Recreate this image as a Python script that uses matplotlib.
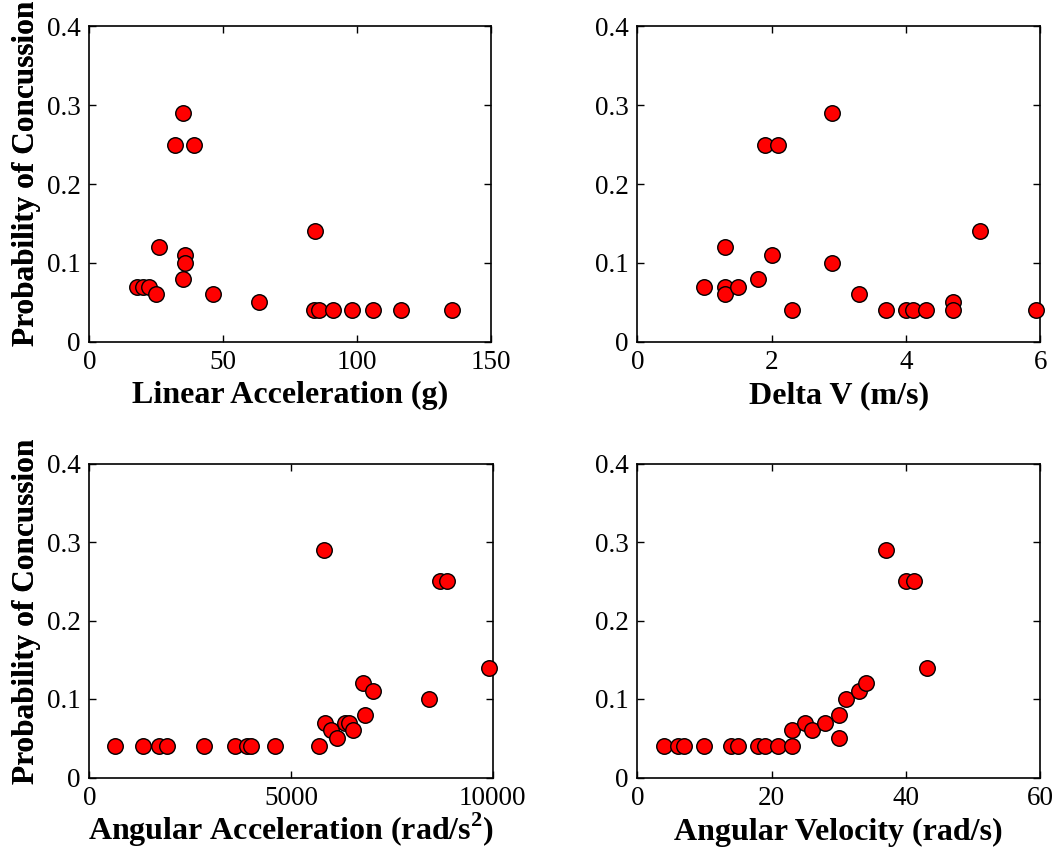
import matplotlib
matplotlib.use("Agg")
import matplotlib.pyplot as plt

plt.rcParams['font.family'] = ['Liberation Serif', 'DejaVu Serif']
plt.rcParams['mathtext.fontset'] = 'custom'
plt.rcParams['mathtext.rm'] = 'Liberation Serif:bold'
plt.rcParams['mathtext.bf'] = 'Liberation Serif:bold'

# Panel 1: Linear acceleration (g)
lin_acc = [17.9, 20.1, 22.4, 24.9, 25.9, 32.0, 35.1, 39.1, 35.1, 35.8, 35.8,
           46.0, 63.3, 84.1, 84.0, 85.8, 91.0, 98.0, 106.0, 116.2, 135.3]
lin_prob = [0.07, 0.07, 0.07, 0.06, 0.12, 0.25, 0.29, 0.25, 0.08, 0.11, 0.10,
            0.06, 0.05, 0.14, 0.04, 0.04, 0.04, 0.04, 0.04, 0.04, 0.04]

# Panel 2: Delta V (m/s)
dv = [1.0, 1.3, 1.3, 1.3, 1.5, 1.8, 1.9, 2.1, 2.0, 2.3, 2.9, 2.9, 3.3, 3.7,
      4.0, 4.1, 4.3, 4.7, 4.7, 5.1, 5.93]
dv_prob = [0.07, 0.12, 0.07, 0.06, 0.07, 0.08, 0.25, 0.25, 0.11, 0.04, 0.29,
           0.10, 0.06, 0.04, 0.04, 0.04, 0.04, 0.05, 0.04, 0.14, 0.04]

# Panel 3: Angular acceleration (rad/s^2)
ang_acc = [645, 1339, 1736, 1917, 2843, 3620, 3917, 4000, 4612, 5702, 5818,
           5851, 5983, 6149, 6347, 6446, 6545, 6843, 6777, 7025, 8430, 8694,
           8876, 9901]
ang_acc_prob = [0.04, 0.04, 0.04, 0.04, 0.04, 0.04, 0.04, 0.04, 0.04, 0.04,
                0.29, 0.07, 0.06, 0.05, 0.07, 0.07, 0.06, 0.08, 0.12, 0.11,
                0.10, 0.25, 0.25, 0.14]

# Panel 4: Angular velocity (rad/s)
ang_vel = [4, 6, 7, 10, 14, 15, 18, 19, 21, 23, 23, 25, 26, 28, 30, 30, 31,
           33, 34, 37, 40, 41.2, 43.2]
ang_vel_prob = [0.04, 0.04, 0.04, 0.04, 0.04, 0.04, 0.04, 0.04, 0.04, 0.04,
                0.06, 0.07, 0.06, 0.07, 0.08, 0.05, 0.10, 0.11, 0.12, 0.29,
                0.25, 0.25, 0.14]

ylabel = 'Probability of Concussion'
yticks = [0, 0.1, 0.2, 0.3, 0.4]
yticklabels = ['0', '0.1', '0.2', '0.3', '0.4']

panels = [
    (lin_acc, lin_prob, (0, 150), [0, 50, 100, 150], ['0', '50', '100', '150'],
     'Linear Acceleration (g)'),
    (dv, dv_prob, (0, 6), [0, 2, 4, 6], ['0', '2', '4', '6'], 'Delta V (m/s)'),
    (ang_acc, ang_acc_prob, (0, 10000), [0, 5000, 10000], ['0', '5000', '10000'],
     r'Angular Acceleration (rad/s$^{2}$)'),
    (ang_vel, ang_vel_prob, (0, 60), [0, 20, 40, 60], ['0', '20', '40', '60'],
     'Angular Velocity (rad/s)'),
]

W, H = 1058, 859
fig = plt.figure(figsize=(W / 100, H / 100), dpi=100)

# axes boxes in pixels: (left, top, right, bottom), plus label baseline / ylabel centre
boxes = [
    (89.3, 26.3, 491.3, 341.7, 403, 173),
    (637.3, 26.3, 1040.3, 341.7, 403, 173),
    (89.3, 463.5, 492.7, 777.5, 840, 611),
    (637.3, 463.5, 1040.3, 777.5, 840, 611),
]

for (x, y, xlim, xt, xtl, xlabel), (l, t, r, b, xlb, ylc) in zip(panels, boxes):
    ax = fig.add_axes([l / W, (H - b) / H, (r - l) / W, (b - t) / H])
    ax.scatter(x, y, s=125, c='#ff0000', edgecolors='black', linewidths=1.0,
               zorder=3, clip_on=False)
    ax.set_xlim(*xlim)
    ax.set_ylim(0, 0.4)
    ax.set_xticks(xt)
    ax.set_xticklabels(xtl)
    ax.set_yticks(yticks)
    ax.set_yticklabels(yticklabels)
    ax.tick_params(direction='in', length=5, width=1, top=True, right=True,
                   labelsize=19.5, pad=6)
    for sp in ax.spines.values():
        sp.set_linewidth(1.2)
    ax.set_xlabel(xlabel, fontsize=23, fontweight='bold', va='baseline')
    ax.xaxis.set_label_coords(0.5, (b - xlb) / (b - t))
    ax.set_ylabel(ylabel, fontsize=22.5, fontweight='bold', va='center')
    ax.yaxis.set_label_coords(-(l - 27) / (r - l), (b - ylc) / (b - t))

fig.savefig('out.png', dpi=100)
